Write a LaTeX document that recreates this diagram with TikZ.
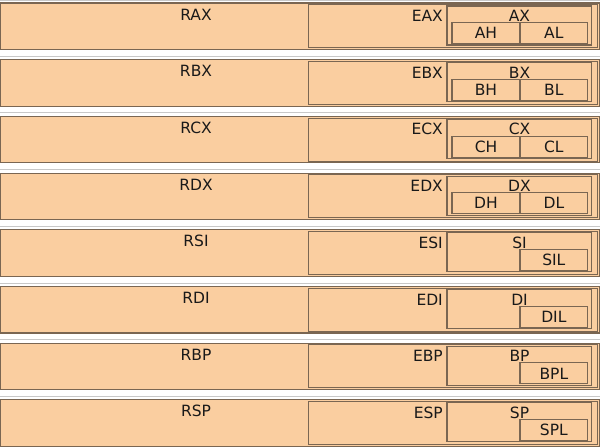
\documentclass[tikz,border=0pt]{standalone}
\usepackage{fontspec}
\setmainfont{DejaVu Sans}
\definecolor{peach}{RGB}{250,206,160}
\definecolor{edge}{RGB}{122,102,82}
\definecolor{sepgray}{RGB}{200,200,200}
\tikzset{
  box/.style={draw=edge, fill=peach, line width=1.1pt, inner sep=0pt, rectangle},
  lbl/.style={inner sep=0pt, font=\fontsize{15.5}{18}\selectfont, text=black!90},
  sepline/.style={draw=sepgray, line width=1pt}
}
\begin{document}
\begin{tikzpicture}[x=1pt,y=-1pt]
\useasboundingbox (0,0) rectangle (600,447);
% one row per 64-bit register
\foreach \i/\r/\e/\x/\l in {0/RAX/EAX/AX/AL,1/RBX/EBX/BX/BL,2/RCX/ECX/CX/CL,3/RDX/EDX/DX/DL,4/RSI/ESI/SI/SIL,5/RDI/EDI/DI/DIL,6/RBP/EBP/BP/BPL,7/RSP/ESP/SP/SPL}{
  \pgfmathsetmacro\T{3+56.7*\i}
  \pgfmathsetmacro\G{max(0.8,\T-3.5)}
  \coordinate (ga\i) at (0,\G);
  \coordinate (gb\i) at (600,\G);
  \draw[sepline] (ga\i) -- (gb\i);
  \node[box, minimum width=599pt, minimum height=46.5pt] (R\i) at (300,\T+23.25) {};
  \node[box, minimum width=289.2pt, minimum height=43pt] (E\i) at (453.1,\T+23.2) {};
  \node[box, minimum width=144.7pt, minimum height=39pt] (X\i) at (519.35,\T+22.5) {};
  \node[box, minimum width=67.7pt, minimum height=21pt, lbl, text depth=0pt, text height=11.3pt] (L\i) at (553.85,\T+30.2) {\l};
  \node[lbl, anchor=base] (rt\i) at (196,\T+17) {\r};
  \node[lbl, anchor=base east] (et\i) at (443,\T+18.5) {\e};
  \node[lbl, anchor=base] (xt\i) at (519.5,\T+18.5) {\x};
}
% high-byte halves (only for A, B, C, D)
\foreach \i/\h in {0/AH,1/BH,2/CH,3/DH}{
  \pgfmathsetmacro\T{3+56.7*\i}
  \node[box, minimum width=68pt, minimum height=21pt, lbl, text depth=0pt, text height=11.3pt] (H\i) at (486,\T+30.2) {\h};
}
\end{tikzpicture}
\end{document}
